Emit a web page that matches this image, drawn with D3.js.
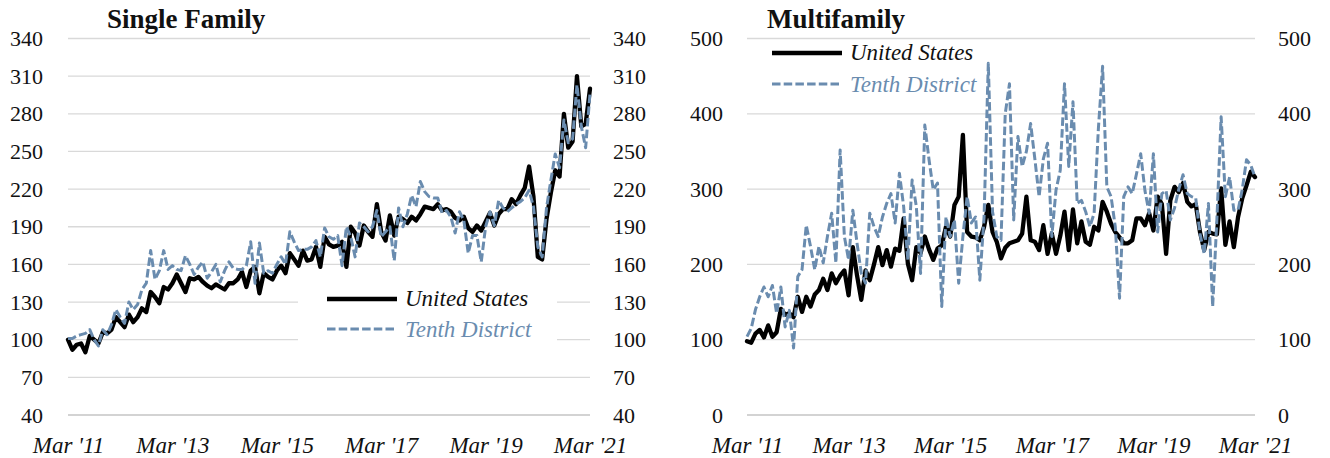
<!DOCTYPE html>
<html><head><meta charset="utf-8">
<script src="https://cdn.jsdelivr.net/npm/d3@7"></script>
<style>
body{margin:0;background:#fff;}
svg{display:block;}
svg text{font-family:"Liberation Serif","DejaVu Serif",serif;}
</style></head><body>
<svg id="c" width="1330" height="458"></svg>
<script>
// ---- data ----
const xTickLabels = ["Mar '11","Mar '13","Mar '15","Mar '17","Mar '19","Mar '21"];
const xTickMonths = [0,24,48,72,96,120]; // months since Mar 2011
const seriesNames = ["United States","Tenth District"];
const panelTitles = ["Single Family","Multifamily"];
const sfTicks = [40,70,100,130,160,190,220,250,280,310,340];
const mfTicks = [0,100,200,300,400,500];

const sfUS = [100,92,96,97,90,103,100,97,106,105,
  108,118,114,110,120,114,118,125,122,138,
  134,129,142,140,145,152,145,138,149,148,
  150,146,143,141,144,142,140,145,145,148,
  154,142,155,158,137,153,150,148,155,159,
  153,169,164,159,171,163,164,174,158,182,
  176,174,175,178,158,190,185,175,191,186,
  182,208,186,179,199,183,198,196,193,198,
  195,200,206,205,204,208,203,204,202,197,
  195,198,189,186,191,187,194,201,191,200,
  204,204,212,208,215,221,238,214,166,164,
  196,217,235,230,280,253,258,310,270,272,
  300];
const sfTD = [101,101,103,104,105,108,100,95,108,104,
  112,124,118,113,130,124,128,140,145,171,
  148,155,171,156,159,156,155,167,160,152,
  158,162,149,154,160,146,155,162,157,156,
  156,159,178,145,177,153,155,153,160,166,
  160,186,178,171,172,172,174,179,166,189,
  182,180,183,159,190,182,166,193,190,186,
  190,203,182,186,190,163,205,190,200,215,
  206,226,218,214,213,213,201,203,198,185,
  202,195,169,183,183,162,190,202,191,211,
  205,202,205,208,210,213,219,206,174,166,
  205,227,248,237,275,257,260,303,270,253,
  296];
const mfUS = [98,96,108,113,103,119,104,110,141,133,
  135,130,157,137,157,144,160,166,181,166,
  188,175,185,192,159,223,185,153,192,179,
  200,223,199,219,197,221,218,261,201,179,
  223,215,237,220,206,221,225,250,237,279,
  290,372,243,237,236,232,250,279,243,230,
  208,222,228,230,232,241,290,232,230,219,
  252,214,241,214,238,270,219,273,228,257,
  230,226,250,245,283,270,254,243,236,228,
  228,232,261,261,252,268,245,290,280,214,
  285,303,296,308,283,277,280,243,219,243,
  241,240,301,226,257,223,263,288,305,323,
  316];
const mfTD = [104,115,140,157,170,157,172,135,170,117,
  139,89,184,193,252,224,193,224,202,237,
  268,202,352,237,206,272,228,188,175,268,
  250,237,263,281,294,255,321,277,206,312,
  277,188,385,339,299,308,144,263,237,259,
  175,237,290,255,263,179,263,467,270,237,
  232,400,440,259,370,330,350,387,340,290,
  340,361,237,299,325,440,330,416,281,285,
  270,250,268,380,463,303,290,250,155,290,
  303,294,320,347,298,268,347,243,294,298,
  259,275,300,319,294,290,288,241,214,281,
  144,260,396,290,316,272,272,300,339,332,
  316];

// ---- drawing ----
const US_COLOR = "#000000";
const TD_COLOR = "#6a8caf";
const svg = d3.select("#c");

const panels = [
  {title: panelTitles[0], titleX: 107, x0: 68, x1: 590, dom: [40,340], ticks: sfTicks,
   us: sfUS, td: sfTD, lx: 43, rx: 613,
   legend: {box: [298,281,259,70], lineX: 327, textX: 405, y1: 299, y2: 329}},
  {title: panelTitles[1], titleX: 767, x0: 747, x1: 1255, dom: [0,500], ticks: mfTicks,
   us: mfUS, td: mfTD, lx: 723, rx: 1278,
   legend: {box: null, lineX: 772, textX: 850, y1: 53, y2: 84}}
];

panels.forEach(p => {
  const g = svg.append("g");
  const x = d3.scaleLinear().domain([0,120]).range([p.x0, p.x1]);
  const y = d3.scaleLinear().domain(p.dom).range([415, 38.5]);

  // gridlines
  g.append("g").selectAll("line").data(p.ticks).join("line")
    .attr("x1", p.x0).attr("x2", p.x1)
    .attr("y1", d => y(d)).attr("y2", d => y(d))
    .attr("stroke", (d,i) => i === 0 ? "#c4c4c4" : "#d9d9d9")
    .attr("stroke-width", (d,i) => i === 0 ? 1.6 : 1.3);

  // left axis labels
  const la = g.append("g").attr("transform", `translate(${p.lx},0)`)
    .call(d3.axisLeft(y).tickValues(p.ticks).tickSize(0).tickPadding(0).tickFormat(d3.format("d")));
  la.select(".domain").remove();
  la.selectAll("text").attr("font-size", 22).attr("fill", "#111");

  // right axis labels
  const ra = g.append("g").attr("transform", `translate(${p.rx},0)`)
    .call(d3.axisRight(y).tickValues(p.ticks).tickSize(0).tickPadding(0).tickFormat(d3.format("d")));
  ra.select(".domain").remove();
  ra.selectAll("text").attr("font-size", 22).attr("fill", "#111");

  // x axis labels
  const xa = g.append("g").attr("transform", `translate(0,437)`)
    .call(d3.axisBottom(x).tickValues(xTickMonths).tickSize(0).tickPadding(0)
      .tickFormat((d,i) => xTickLabels[i]));
  xa.select(".domain").remove();
  xa.selectAll("text").attr("font-size", 23).attr("font-style", "italic").attr("fill", "#111");

  // legend box
  if (p.legend.box) {
    const b = p.legend.box;
    g.append("rect").attr("x", b[0]).attr("y", b[1]).attr("width", b[2]).attr("height", b[3]).attr("fill", "#fff");
  }

  // lines
  const line = d3.line().x((d,i) => x(i)).y(d => y(d));
  g.append("path").datum(p.us).attr("d", line)
    .attr("fill", "none").attr("stroke", US_COLOR).attr("stroke-width", 4.3)
    .attr("stroke-linejoin", "round").attr("stroke-linecap", "round");
  g.append("path").datum(p.td).attr("d", line)
    .attr("fill", "none").attr("stroke", TD_COLOR).attr("stroke-width", 3)
    .attr("stroke-dasharray", "8.5,3.2").attr("stroke-linejoin", "round");

  // title
  g.append("text").attr("x", p.titleX).attr("y", 28).text(p.title)
    .attr("font-size", 27).attr("font-weight", "bold").attr("fill", "#111");

  // legend
  const L = p.legend;
  g.append("line").attr("x1", L.lineX).attr("x2", L.lineX + 70).attr("y1", L.y1).attr("y2", L.y1)
    .attr("stroke", US_COLOR).attr("stroke-width", 4.3);
  g.append("line").attr("x1", L.lineX).attr("x2", L.lineX + 70).attr("y1", L.y2).attr("y2", L.y2)
    .attr("stroke", TD_COLOR).attr("stroke-width", 3).attr("stroke-dasharray", "8.5,3.2");
  g.append("text").attr("x", L.textX).attr("y", L.y1 + 7).text(seriesNames[0])
    .attr("font-size", 23).attr("font-style", "italic").attr("fill", "#111");
  g.append("text").attr("x", L.textX).attr("y", L.y2 + 7.5).text(seriesNames[1])
    .attr("font-size", 23).attr("font-style", "italic").attr("fill", TD_COLOR);
});
</script>
</body></html>
